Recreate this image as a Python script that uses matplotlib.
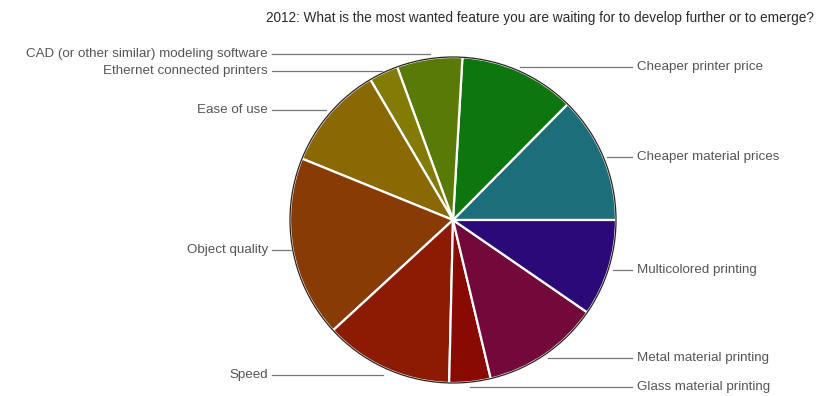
import matplotlib.pyplot as plt
import numpy as np

plt.rcParams['font.family'] = ['Liberation Sans', 'DejaVu Sans']

labels = ['Cheaper material prices', 'Cheaper printer price',
          'CAD (or other similar) modeling software', 'Ethernet connected printers',
          'Ease of use', 'Object quality', 'Speed', 'Glass material printing',
          'Metal material printing', 'Multicolored printing']
values = [12.6, 11.5, 6.5, 2.9, 10.4, 18.0, 12.8, 4.1, 11.7, 9.6]
colors = ['#1b6e7a', '#0e760e', '#5a7a08', '#827c06', '#8a6905', '#883b05',
          '#8b1b03', '#880a03', '#72093a', '#2b0a78']

# label placement (pixels): y of the label and x where its leader line stops
label_y = [157, 67, 54, 71, 110, 250, 375, 387, 358, 270]
leader_x = [607, 520, 430, 383, 326, 292, 383, 470, 548, 613]

fig = plt.figure(figsize=(8.17, 3.96), dpi=100)
W, H = 817, 396
ax = fig.add_axes([0, 0, 1, 1])

cx, cy, r = 453, 220, 163
wedges, _ = ax.pie(values, colors=colors, startangle=0, counterclock=True,
                   center=(cx, cy), radius=r, frame=True,
                   wedgeprops=dict(edgecolor='white', linewidth=1.6))
ax.set_aspect('equal')
ax.set_xlim(0, W)
ax.set_ylim(H, 0)
ax.axis('off')
ax.add_patch(plt.Circle((cx, cy), r, fill=False, edgecolor='#2a2020', linewidth=0.9))

# axis is flipped (y down), so mirror the wedge angles
for w in wedges:
    t1, t2 = w.theta1, w.theta2
    w.set_theta1(-t2)
    w.set_theta2(-t1)

for i, lab in enumerate(labels):
    y, xe = label_y[i], leader_x[i]
    if xe > cx:
        ax.plot([xe, 632], [y, y], color='#777777', lw=0.9, zorder=0)
        ax.text(637, y, lab, ha='left', va='center', fontsize=9.6, color='#555555')
    else:
        ax.plot([272, xe], [y, y], color='#777777', lw=0.9, zorder=0)
        ax.text(268, y, lab, ha='right', va='center', fontsize=9.6, color='#555555')

ax.text(814, 18, '2012: What is the most wanted feature you are waiting for to develop further or to emerge?',
        ha='right', va='center', fontsize=9.8, color='#2a2a2a')

fig.savefig('out.png', dpi=100)
